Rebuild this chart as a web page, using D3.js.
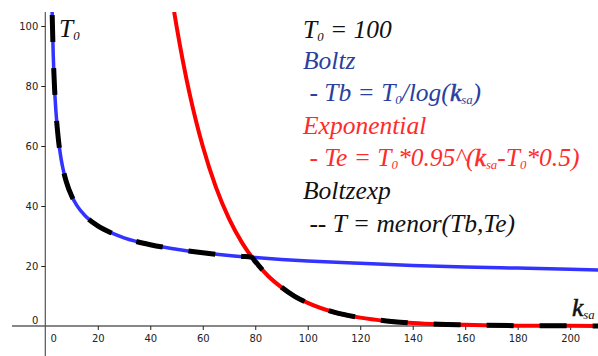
<!DOCTYPE html>
<html>
<head>
<meta charset="utf-8">
<script src="https://cdn.jsdelivr.net/npm/d3@7"></script>
<style>
  html, body { margin: 0; padding: 0; background: #fff; }
  svg { display: block; }
  .tick text { font-family: "DejaVu Sans", sans-serif; font-size: 10px; fill: #222; }
</style>
</head>
<body>
<svg id="chart"></svg>
<script>
// values
const boltzK = [2.6, 3, 3.5, 4, 5, 6, 7, 8, 10, 12, 15, 20, 25, 30, 40, 50, 60, 70, 80, 90, 100, 120, 140, 160, 180, 200, 211];
const boltzT = [104.7, 91.0, 79.8, 72.1, 62.1, 55.8, 51.4, 48.1, 43.4, 40.2, 36.9, 33.4, 31.1, 29.4, 27.1, 25.6, 24.4, 23.5, 22.8, 22.2, 21.7, 20.9, 20.2, 19.7, 19.3, 18.9, 18.7];

const expK = [49.1, 50, 52.5, 55, 57.5, 60, 65, 70, 75, 80, 85, 90, 95, 100, 110, 120, 130, 140, 150, 160, 180, 200, 211];
const expT = [104.7, 100, 88.0, 77.4, 68.1, 59.9, 46.3, 35.8, 27.7, 21.5, 16.6, 12.9, 9.9, 7.7, 4.6, 2.8, 1.7, 1.0, 0.6, 0.4, 0.1, 0.05, 0.03];

const boltzexpK = [2.6, 3, 3.5, 4, 5, 6, 7, 8, 10, 12, 15, 20, 25, 30, 40, 50, 60, 70, 75, 78.6, 80, 85, 90, 95, 100, 110, 120, 130, 140, 150, 160, 180, 200, 211];
const boltzexpT = [104.7, 91.0, 79.8, 72.1, 62.1, 55.8, 51.4, 48.1, 43.4, 40.2, 36.9, 33.4, 31.1, 29.4, 27.1, 25.6, 24.4, 23.5, 23.2, 22.9, 21.5, 16.6, 12.9, 9.9, 7.7, 4.6, 2.8, 1.7, 1.0, 0.6, 0.4, 0.1, 0.05, 0.03];

const xTicks = [0, 20, 40, 60, 80, 100, 120, 140, 160, 180, 200];
const yTicks = [0, 20, 40, 60, 80, 100];

// legend lines: [text segments, colour]; a segment of form ["0", "sub"] is a subscript
const legendLines = [
  [[["T"], ["0", "sub"], [" = 100"]], "#111"],
  [[["Boltz"]], "#2a3f9f"],
  [[[" - Tb = T"], ["0", "sub"], ["/log("], ["k", "bold"], ["sa", "sub"], [")"]], "#2a3f9f"],
  [[["Exponential"]], "#ff2b2b"],
  [[[" - Te = T"], ["0", "sub"], ["*0.95^("], ["k", "bold"], ["sa", "sub"], ["-T"], ["0", "sub"], ["*0.5)"]], "#ff2b2b"],
  [[["Boltzexp"]], "#111"],
  [[[" -- T = menor(Tb,Te)"]], "#111"]
];

const serif = '"Liberation Serif", "Times New Roman", serif';
const fontSize = 25.5;
const width = 598, height = 356;
const plot = { left: 12, top: 12, right: 598, bottom: 356 };

const svg = d3.select('#chart')
  .attr('width', width)
  .attr('height', height);

const x = d3.scaleLinear().domain([-12.69, 210.6]).range([plot.left, plot.right]);
const y = d3.scaleLinear().domain([-10, 104.67]).range([plot.bottom, plot.top]);

svg.append('clipPath').attr('id', 'clip')
  .append('rect')
    .attr('x', plot.left).attr('y', plot.top)
    .attr('width', plot.right - plot.left).attr('height', plot.bottom - plot.top);

// axes lines
svg.append('line')
  .attr('x1', plot.left).attr('x2', plot.right)
  .attr('y1', y(0)).attr('y2', y(0))
  .attr('stroke', '#111').attr('stroke-width', 1.2);
svg.append('line')
  .attr('x1', x(0)).attr('x2', x(0))
  .attr('y1', plot.top).attr('y2', plot.bottom)
  .attr('stroke', '#555').attr('stroke-width', 1.2);

const xAxis = svg.append('g')
  .attr('transform', `translate(0,${y(0)})`)
  .call(d3.axisBottom(x).tickValues(xTicks).tickSize(4).tickPadding(5).tickFormat(d3.format('d')));
xAxis.select('.domain').remove();
xAxis.selectAll('.tick').filter(d => d === 0).select('line').remove();
xAxis.selectAll('.tick').filter(d => d === 0).select('text').attr('dx', 8);

const yAxis = svg.append('g')
  .attr('transform', `translate(${x(0)},0)`)
  .call(d3.axisLeft(y).tickValues(yTicks).tickSize(4).tickPadding(3).tickFormat(d3.format('d')));
yAxis.select('.domain').remove();
yAxis.selectAll('.tick').filter(d => d === 0).select('line').remove();
yAxis.selectAll('.tick').filter(d => d === 0).select('text').attr('dy', '-0.3em').attr('x', -7);
svg.selectAll('.tick line').attr('stroke', '#222');

const line = d3.line()
  .x(d => x(d[0]))
  .y(d => y(d[1]))
  .curve(d3.curveMonotoneX);

const curves = svg.append('g').attr('clip-path', 'url(#clip)');

curves.append('path')
  .attr('d', line(d3.zip(boltzK, boltzT)))
  .attr('fill', 'none').attr('stroke', '#3333ff').attr('stroke-width', 3.5);

curves.append('path')
  .attr('d', line(d3.zip(expK, expT)))
  .attr('fill', 'none').attr('stroke', '#ff0000').attr('stroke-width', 4);

curves.append('path')
  .attr('d', line(d3.zip(boltzexpK, boltzexpT)))
  .attr('fill', 'none').attr('stroke', '#000').attr('stroke-width', 5)
  .attr('stroke-dasharray', '27 26').attr('stroke-dashoffset', 50);

// rich text helper: subscripts drop a little, the next segment comes back up
function richText(g, segments, size) {
  let back = 0;
  segments.forEach(seg => {
    const t = g.append('tspan').text(seg[0]);
    if (seg[1] === 'sub') {
      t.attr('font-size', size * 0.5).attr('dy', 3 + back);
      back = -3;
    } else {
      if (back) t.attr('dy', back);
      back = 0;
      // the k looks heavier in the reference, but stays narrow
      if (seg[1] === 'bold') t.attr('stroke', 'currentColor').attr('stroke-width', 0.6);
    }
  });
}

function label(xp, yp, color) {
  return svg.append('text')
    .attr('x', xp).attr('y', yp)
    .attr('font-family', serif)
    .attr('font-style', 'italic')
    .attr('font-size', fontSize)
    .attr('fill', color)
    .style('color', color)
    .style('white-space', 'pre');
}

// axis names
richText(label(59, 37, '#111'), [["T"], ["0", "sub"]], fontSize);
richText(label(572, 316, '#111'), [["k", "bold"], ["sa", "sub"]], fontSize);

// legend
const legendY = [38, 69, 101, 134, 166, 199, 232];
legendLines.forEach((ln, i) => {
  richText(label(303, legendY[i], ln[1]), ln[0], fontSize);
});
</script>
</body>
</html>
